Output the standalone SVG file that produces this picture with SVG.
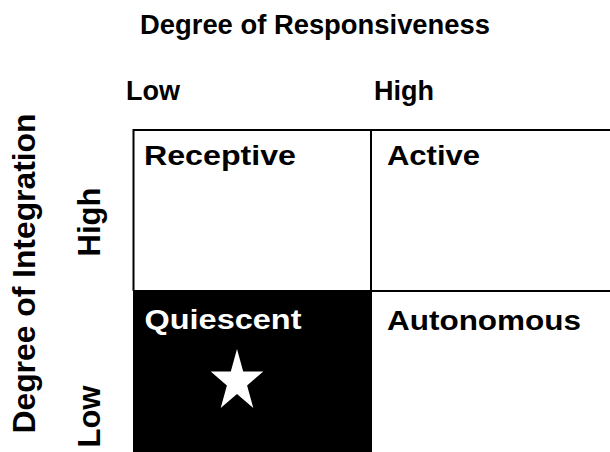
<svg xmlns="http://www.w3.org/2000/svg" width="610" height="452" viewBox="0 0 610 452">
<style>
text{font-family:"Liberation Sans",Arial,sans-serif;font-weight:bold;fill:#000}
.h{font-size:27px}
.v{font-size:31px}
.c{font-size:27.5px}
.w{fill:#fff}
.ln{stroke:#000;stroke-width:2;fill:none}
</style>
<rect x="0" y="0" width="610" height="452" fill="#fff"/>
<g id="axis-labels">
<text class="h" x="140" y="33.5" textLength="350" lengthAdjust="spacingAndGlyphs">Degree of Responsiveness</text>
<text class="h" x="126" y="99.5">Low</text>
<text class="h" x="374" y="99.5">High</text>
<text class="v" transform="translate(35,433.5) rotate(-90)" textLength="320" lengthAdjust="spacingAndGlyphs">Degree of Integration</text>
<text class="v" text-anchor="middle" transform="translate(100,222) rotate(-90)">High</text>
<text class="v" text-anchor="middle" transform="translate(100,416.5) rotate(-90)">Low</text>
</g>
<g id="grid">
<path class="ln" d="M133.5,130 H610 M133.5,129 V291 M371,129 V291 M371,291 H610"/>
</g>
<g id="receptive">
<text class="c" x="144" y="164.5" textLength="152" lengthAdjust="spacingAndGlyphs">Receptive</text>
</g>
<g id="active">
<text class="c" x="387" y="164.5" textLength="93" lengthAdjust="spacingAndGlyphs">Active</text>
</g>
<g id="quiescent">
<rect x="133" y="290" width="239" height="162" fill="#000"/>
<text class="c w" x="144.5" y="329" textLength="157" lengthAdjust="spacingAndGlyphs">Quiescent</text>
<polygon fill="#fff" points="237,349 243.2,371.5 263.3,371.5 247.1,385.4 253.3,408 237,394.1 220.7,408 226.9,385.4 210.7,371.5 230.8,371.5"/>
</g>
<g id="autonomous">
<text class="c" x="387" y="329.5" textLength="194" lengthAdjust="spacingAndGlyphs">Autonomous</text>
</g>
</svg>
